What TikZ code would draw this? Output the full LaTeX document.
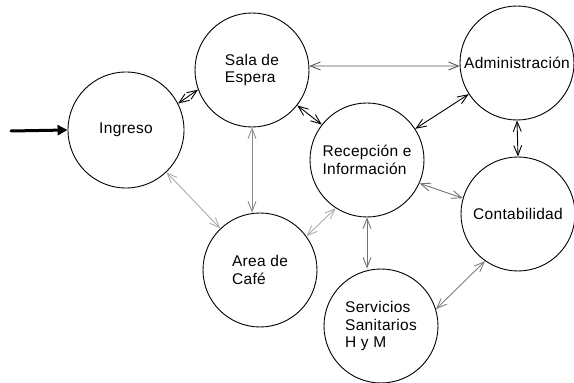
\documentclass[tikz,border=0pt]{standalone}
\usepackage{fontspec}
\setmainfont[LetterSpace=2]{Liberation Sans}
\usetikzlibrary{arrows.meta}
\begin{document}
\begin{tikzpicture}[x=1pt,y=1pt,
  room/.style={draw=black, line width=0.9pt, circle, minimum size=114pt, inner sep=0pt, align=left, font=\fontsize{15.5}{17.5}\selectfont},
  link/.style={line width=0.9pt, {Straight Barb[length=10pt,width=8pt]}-{Straight Barb[length=10pt,width=8pt]}},
  entryarrow/.style={line width=3pt, -{Triangle[length=10pt,width=10pt]}, line cap=round}
]
\useasboundingbox (0,0) rectangle (574,383);
\node[room, minimum size=116pt] (ingreso) at (126,253) {Ingreso};
\node[room] (sala) at (252,313) {Sala de\\Espera};
\node[room] (admin) at (517,320) {Administración};
\node[room] (recep) at (367,223) {Recepción e\\Información};
\node[room] (contab) at (518,169) {Contabilidad};
\node[room] (cafe) at (260,113) {Area de\\Café};
\node[room] (serv) at (381,57) {Servicios\\Sanitarios\\H y M};
\coordinate (entry) at (11,252);

\draw[entryarrow] (entry) -- (ingreso.west);
\draw[link, black] (ingreso.27) -- (sala.200);
\draw[link, black!65] (sala.4) -- (admin.183);
\draw[link, black] (sala) -- (recep);
\draw[link, black] (recep) -- (admin);
\draw[link, black] (admin.south) -- (contab.north);
\draw[link, black!55] (recep.-24) -- (contab.164);
\draw[link, black!45] (sala.south) -- (sala.south |- cafe.north);
\draw[link, black!32] (ingreso) -- (cafe);
\draw[link, black!32] (cafe.36) -- (recep.237);
\draw[link, black!55] (recep.south) -- (recep.south |- serv.north);
\draw[link, black!50] (serv.17) -- (contab.235);
\end{tikzpicture}
\end{document}
